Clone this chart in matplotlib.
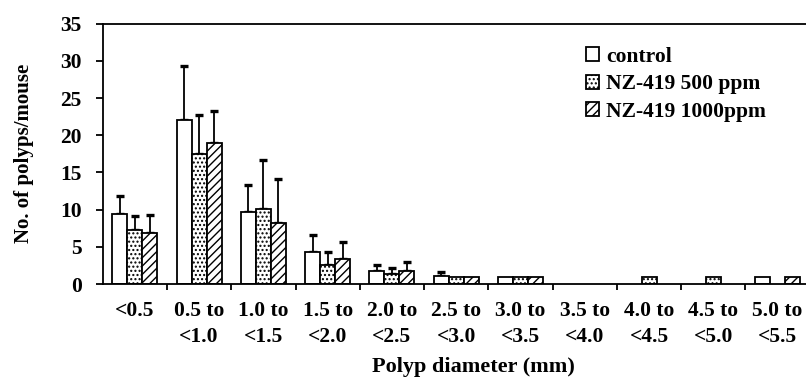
import matplotlib
matplotlib.use("Agg")
import matplotlib.pyplot as plt
from matplotlib.patches import Patch
import numpy as np

categories = ["<0.5", "0.5 to\n<1.0", "1.0 to\n<1.5", "1.5 to\n<2.0", "2.0 to\n<2.5",
              "2.5 to\n<3.0", "3.0 to\n<3.5", "3.5 to\n<4.0", "4.0 to\n<4.5",
              "4.5 to\n<5.0", "5.0 to\n<5.5"]
series_names = ["control", "NZ-419 500 ppm", "NZ-419 1000ppm"]
control = [9.4, 22.0, 9.7, 4.35, 1.7, 1.1, 1.0, 0, 0, 0, 1.0]
control_err = [2.4, 7.25, 3.55, 2.2, 0.8, 0.5, 0, 0, 0, 0, 0]
nz500 = [7.3, 17.5, 10.05, 2.55, 1.35, 1.0, 1.0, 0, 1.0, 1.0, 0]
nz500_err = [1.85, 5.2, 6.6, 1.8, 0.8, 0, 0, 0, 0, 0, 0]
nz1000 = [6.9, 19.0, 8.2, 3.35, 1.75, 1.0, 1.0, 0, 0, 0, 1.0]
nz1000_err = [2.35, 4.2, 5.95, 2.35, 1.2, 0, 0, 0, 0, 0, 0]
yticks = [0, 5, 10, 15, 20, 25, 30, 35]

plt.rcParams['font.family'] = ['Liberation Serif', 'DejaVu Serif']
plt.rcParams['font.weight'] = 'bold'
plt.rcParams['hatch.linewidth'] = 1.0

fig = plt.figure(figsize=(8.06, 3.86), dpi=100)
ax = fig.add_axes([102.7 / 806, 1 - 284 / 386, 707 / 806, (284 - 23.7) / 386])

x = np.arange(len(categories))
w = 0.233
hatches = ["", "....", "////"]
datas = [(control, control_err), (nz500, nz500_err), (nz1000, nz1000_err)]
for k, (vals, errs) in enumerate(datas):
    vals = np.array(vals, float)
    errs = np.array(errs, float)
    xs = x + (k - 1) * w
    m = vals > 0
    ax.bar(xs[m], vals[m], width=w, facecolor="white", edgecolor="black",
           linewidth=1.3, hatch=hatches[k], zorder=2)
    e = errs > 0
    ax.errorbar(xs[e], vals[e], yerr=[np.zeros(e.sum()), errs[e]], fmt="none",
                ecolor="black", elinewidth=1.3, capsize=3, capthick=2.4, zorder=1)

ax.set_xlim(-0.5, len(categories) - 0.5)
ax.set_ylim(0, 35)
ax.set_yticks(yticks)
ax.set_yticklabels([str(t) for t in yticks], fontsize=15.5, fontweight="bold")
ax.set_xticks(x[:-1] + 0.5)
ax.set_xticklabels([])
ax.set_xticks(x, minor=True)
ax.set_xticklabels(categories, minor=True, fontsize=15.5, fontweight="bold",
                   linespacing=1.45)
ax.tick_params(axis="x", which="minor", length=0, pad=12)
ax.tick_params(axis="x", which="major", direction="out", length=4, width=1.3)
ax.tick_params(axis="y", direction="out", length=5, width=1.3, pad=10)
for s in ["left", "top", "bottom", "right"]:
    ax.spines[s].set_linewidth(1.3)

ax.set_ylabel("No. of polyps/mouse", fontsize=15, fontweight="bold", labelpad=19)
fig.text(473 / 806, 1 - 367 / 386, "Polyp diameter (mm)", fontsize=16,
         fontweight="bold", ha="center", va="center")

handles = [Patch(facecolor="white", edgecolor="black", hatch=h, linewidth=1.3)
           for h in hatches]
leg = ax.legend(handles, series_names, loc="upper left",
                bbox_to_anchor=((575 - 102.7) / 707, (284 - 36) / 260.3),
                frameon=False, fontsize=15.5, handlelength=0.6, handleheight=0.6,
                handletextpad=0.35, labelspacing=0.35, borderpad=0)
for t in leg.get_texts():
    t.set_fontweight("bold")

fig.savefig("out.png", dpi=100)
